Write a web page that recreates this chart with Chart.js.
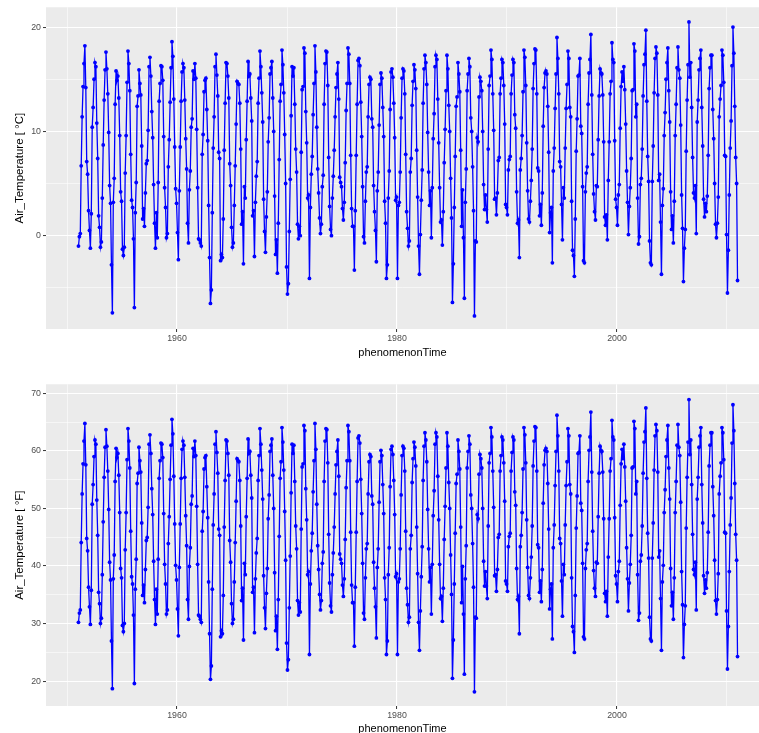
<!DOCTYPE html>
<html><head><meta charset="utf-8">
<script src="https://cdn.jsdelivr.net/npm/chart.js@4.4.1/dist/chart.umd.min.js"></script>
<style>
html,body{margin:0;padding:0;background:#fff;overflow:hidden;width:759px;height:733px;}
.box{position:absolute;left:0;width:759px;height:366px;}
</style></head><body>
<div class="box" style="top:0"><canvas id="c1"></canvas></div>
<div class="box" style="top:377px"><canvas id="c2"></canvas></div>
<script>
// Monthly mean air temperature [°C], Jan..Dec, one row per year
const firstYear = 1951;
const tempC_1951_1960 = [
  -1.0,-0.1,0.2,6.7,11.4,14.3,16.5,18.2,14.2,7.1,5.9,2.4,
  0.5,-1.2,2.1,10.4,12.3,15.0,16.6,16.2,10.8,7.4,1.9,0.8,
  -1.1,-0.6,3.6,8.7,13.0,15.9,17.6,16.0,13.6,9.9,4.8,3.1,
  -2.8,-7.4,3.2,5.5,12.6,15.8,14.9,15.3,13.2,9.6,4.2,3.3,
  -1.3,-1.9,-1.1,6.0,9.6,14.7,17.7,16.5,13.9,7.8,3.4,2.7,
  -0.3,-6.9,2.2,5.1,12.4,13.4,15.9,14.6,13.5,8.6,1.6,2.6,
  0.9,4.1,6.9,7.2,10.1,16.2,17.1,15.3,11.9,9.4,4.9,1.2,
  -1.2,2.2,-0.2,5.1,12.9,14.6,16.3,16.2,14.9,9.5,4.6,2.7,
  -0.2,0.2,6.6,9.2,12.8,16.1,18.6,17.2,13.1,8.5,4.5,3.1,
  0.3,-2.3,4.3,8.5,12.9,15.7,16.5,16.1,13.0,9.3,6.4,1.2
];
const tempC_1961_1970 = [
  -0.7,4.4,6.2,10.4,11.2,15.8,15.0,16.5,15.1,10.2,4.6,-0.3,
  -0.4,-0.7,-1.0,7.8,9.7,13.8,14.9,15.1,12.1,9.1,2.9,-2.1,
  -6.5,-5.2,2.2,8.4,11.4,16.2,17.4,15.4,13.4,8.0,7.4,-2.4,
  -1.8,-2.1,1.6,8.2,12.7,16.6,16.5,15.3,13.2,6.9,4.8,0.8,
  -1.1,-0.7,2.9,6.7,10.7,14.8,14.6,14.5,12.7,8.3,1.1,2.3,
  -2.7,4.7,3.6,9.2,12.9,16.7,15.3,15.5,13.2,11.0,1.9,2.4,
  -2.0,3.2,5.7,7.1,12.7,15.1,17.7,16.2,13.7,10.9,3.5,0.4,
  -1.6,1.8,4.2,9.0,11.3,15.5,16.1,16.7,13.2,10.0,3.8,-1.8,
  -0.4,-3.6,1.2,7.3,12.9,14.5,17.8,16.4,13.7,9.7,5.0,-3.0,
  -5.6,-4.6,0.4,5.4,11.5,16.2,15.3,16.1,12.6,8.3,6.1,1.1
];
const tempC_1971_1980 = [
  -0.3,0.9,0.0,8.0,14.0,14.3,18.0,17.5,11.9,8.9,3.6,3.9,
  -4.1,2.7,5.9,7.6,11.6,14.6,18.2,15.7,10.4,6.4,4.1,1.7,
  0.2,1.1,4.7,5.8,12.6,16.5,17.7,17.6,14.4,7.5,2.8,0.6,
  0.0,3.6,5.7,8.2,11.4,14.2,15.5,16.6,13.1,5.6,5.1,4.7,
  2.6,1.5,3.2,7.0,12.0,14.6,18.0,17.4,14.6,7.7,2.6,0.9,
  0.9,-3.3,2.4,7.7,12.6,16.8,17.0,16.3,12.8,9.5,4.7,-0.1,
  -0.7,3.3,6.1,6.6,11.4,14.5,15.2,15.0,11.2,10.4,4.8,2.3,
  0.5,-2.5,4.3,6.1,10.6,14.5,15.6,15.1,12.3,9.5,3.3,1.2,
  -4.1,-2.8,3.6,6.2,12.1,15.7,16.0,15.2,12.7,9.4,3.4,3.7,
  -4.1,2.9,3.2,6.1,11.3,15.1,16.0,15.8,13.6,7.8,2.3,0.7
];
const tempC_1981_1990 = [
  -1.0,-0.5,6.1,7.4,12.5,14.8,16.4,15.9,14.1,8.2,3.7,-1.0,
  -3.7,0.1,3.4,6.3,12.7,16.0,17.3,16.6,14.5,9.9,6.1,2.9,
  4.3,-0.2,4.6,9.3,11.7,16.2,17.3,16.9,13.1,8.9,4.6,1.3,
  1.5,-0.9,2.3,7.0,10.2,13.9,17.3,16.0,12.5,10.0,5.5,1.7,
  -6.4,-2.7,2.7,7.6,12.4,13.3,16.6,15.5,13.8,8.2,0.9,4.4,
  -0.2,-6.0,3.2,6.4,13.9,15.5,17.0,16.2,11.3,10.0,6.6,2.4,
  -7.7,-0.5,-0.6,9.4,9.0,13.3,15.2,14.8,13.9,10.0,4.9,2.5,
  3.9,2.5,1.3,8.3,14.4,15.3,17.8,16.9,13.6,10.1,3.5,3.6,
  2.0,4.1,7.2,7.5,13.6,15.1,16.9,16.6,14.4,10.7,3.0,2.7,
  2.0,6.3,7.3,7.6,13.6,15.4,16.9,16.6,11.6,10.3,4.2,1.2
];
const tempC_1991_2000 = [
  1.5,-2.1,6.3,7.4,9.6,13.8,17.8,17.1,14.4,8.9,4.3,1.6,
  1.3,3.3,5.3,8.3,14.1,16.5,17.9,17.8,13.6,6.5,6.2,1.9,
  3.0,1.0,4.1,10.5,14.2,15.6,15.8,15.5,12.4,8.0,0.3,2.2,
  2.7,-2.6,6.2,8.4,12.2,15.5,19.0,17.0,13.6,7.1,6.6,3.0,
  -0.4,4.6,3.6,8.4,12.2,14.5,17.7,17.0,12.3,11.4,3.3,-1.4,
  -1.9,-3.9,1.6,8.1,11.2,15.3,15.4,17.0,10.5,9.8,4.7,-2.4,
  -2.6,4.2,6.0,6.6,12.6,15.6,16.9,19.3,13.5,7.8,4.0,2.3,
  1.5,4.8,4.7,9.2,13.4,16.0,15.6,15.5,13.5,9.0,1.8,1.0,
  2.0,-0.4,5.3,9.0,13.6,14.8,18.5,16.9,16.6,9.1,3.5,2.7,
  1.0,3.9,4.9,10.3,14.3,15.7,14.8,16.2,14.0,10.7,6.2,3.2
];
const tempC_2001_2010 = [
  0.1,2.8,4.6,7.4,13.9,14.0,18.4,17.7,11.4,12.6,3.6,-0.8,
  -0.1,4.9,5.5,8.3,13.4,16.4,17.4,19.7,12.9,7.6,5.2,-0.5,
  -2.6,-2.8,5.2,8.6,13.7,17.0,18.1,17.5,13.5,5.3,5.9,1.3,
  -3.7,2.9,4.5,9.6,11.8,15.0,16.6,18.0,13.9,10.9,4.2,0.6,
  1.9,-0.7,3.3,9.6,12.6,16.1,18.1,15.9,15.1,10.6,3.9,0.7,
  -4.4,-1.2,0.6,8.1,13.0,16.4,20.5,15.2,16.6,12.3,7.5,4.1,
  3.6,4.8,0.2,10.9,13.0,15.9,17.0,17.8,12.3,8.6,3.5,1.8,
  3.1,2.3,3.8,7.7,14.1,16.1,17.3,17.3,12.1,9.3,5.0,1.1,
  -0.2,1.2,3.7,11.4,13.1,14.4,17.8,17.3,14.7,7.7,7.6,0.1,
  -5.5,-1.4,3.9,8.4,11.0,16.3,20.0,17.5,12.4,7.5,5.0,-4.3
];

const xMajorTicks = [1960, 1980, 2000];
const xMinorTicks = [1950, 1970, 1990, 2010];
const yMajorC = [0, 10, 20];
const yMinorC = [-5, 5, 15];
const yMajorF = [20, 30, 40, 50, 60, 70];
const yMinorF = [25, 35, 45, 55, 65];

const tempC = [].concat(tempC_1951_1960, tempC_1961_1970, tempC_1971_1980,
                        tempC_1981_1990, tempC_1991_2000, tempC_2001_2010);
// unit conversion of the same observations
const tempF = tempC.map(c => Math.round((c * 9 / 5 + 32) * 100) / 100);
const time = tempC.map((_, i) => firstYear + Math.floor(i / 12) + ((i % 12) + 0.5) / 12);

const FONT = "'Liberation Sans', Arial, Helvetica, sans-serif";
const bgPlugin = {
  id: 'panelBg',
  beforeDraw(chart) {
    const a = chart.chartArea, ctx = chart.ctx;
    ctx.save();
    ctx.fillStyle = '#EBEBEB';
    ctx.fillRect(a.left, a.top, a.right - a.left, a.bottom - a.top);
    ctx.restore();
  }
};

function makeChart(id, values, yMajor, yMinor, yMin, yMax, yTitle, titleBottomPad) {
  const xAll = xMinorTicks.concat(xMajorTicks).sort((a, b) => a - b);
  const yAll = yMinor.concat(yMajor).sort((a, b) => a - b);
  return new Chart(document.getElementById(id), {
    type: 'line',
    data: {
      datasets: [{
        data: time.map((t, i) => ({x: t, y: values[i]})),
        borderColor: '#0000FF',
        backgroundColor: '#0000FF',
        borderWidth: 1.3,
        pointRadius: 1.9,
        pointBorderWidth: 0,
        pointBackgroundColor: '#0000FF',
        tension: 0,
        clip: false
      }]
    },
    options: {
      animation: false,
      responsive: true,
      maintainAspectRatio: false,
      devicePixelRatio: 1,
      layout: {padding: {top: 5, left: 0, right: 0, bottom: 0}, autoPadding: false},
      plugins: {legend: {display: false}, tooltip: {enabled: false}},
      events: [],
      scales: {
        x: {
          type: 'linear',
          min: 1948.09, max: 2012.91,
          afterFit(s) { s.height = 37; },
          afterBuildTicks(s) { s.ticks = xAll.map(v => ({value: v})); },
          border: {display: false},
          grid: {
            color: '#FFFFFF',
            lineWidth: c => xMajorTicks.includes(c.tick.value) ? 1.1 : 0.55,
            tickColor: c => xMajorTicks.includes(c.tick.value) ? '#333333' : 'rgba(0,0,0,0)',
            tickLength: 3,
            tickWidth: 1
          },
          ticks: {
            autoSkip: false, maxRotation: 0, padding: 1,
            color: '#4D4D4D', font: {family: FONT, size: 8.8},
            callback: v => xMajorTicks.includes(v) ? String(v) : ''
          },
          title: {display: true, text: 'phenomenonTime', color: '#000000',
                  font: {family: FONT, size: 11}, padding: {top: 0, bottom: titleBottomPad}}
        },
        y: {
          type: 'linear',
          min: yMin, max: yMax,
          afterFit(s) { s.width = 46; },
          afterBuildTicks(s) { s.ticks = yAll.map(v => ({value: v})); },
          border: {display: false},
          grid: {
            color: '#FFFFFF',
            lineWidth: c => yMajor.includes(c.tick.value) ? 1.1 : 0.55,
            tickColor: c => yMajor.includes(c.tick.value) ? '#333333' : 'rgba(0,0,0,0)',
            tickLength: 3,
            tickWidth: 1
          },
          ticks: {
            autoSkip: false, padding: 2,
            color: '#4D4D4D', font: {family: FONT, size: 8.8},
            callback: v => yMajor.includes(v) ? String(v) : ''
          },
          title: {display: true, text: yTitle, color: '#000000',
                  font: {family: FONT, size: 11.5}, padding: {top: 13, bottom: 0}}
        }
      }
    },
    plugins: [bgPlugin]
  });
}

makeChart('c1', tempC, yMajorC, yMinorC, -8.95, 21.9, 'Air_Temperature [ °C]', 6);
makeChart('c2', tempF, yMajorF, yMinorF, 15.67, 71.56, 'Air_Temperature [ °F]', 7);
</script>
</body></html>
